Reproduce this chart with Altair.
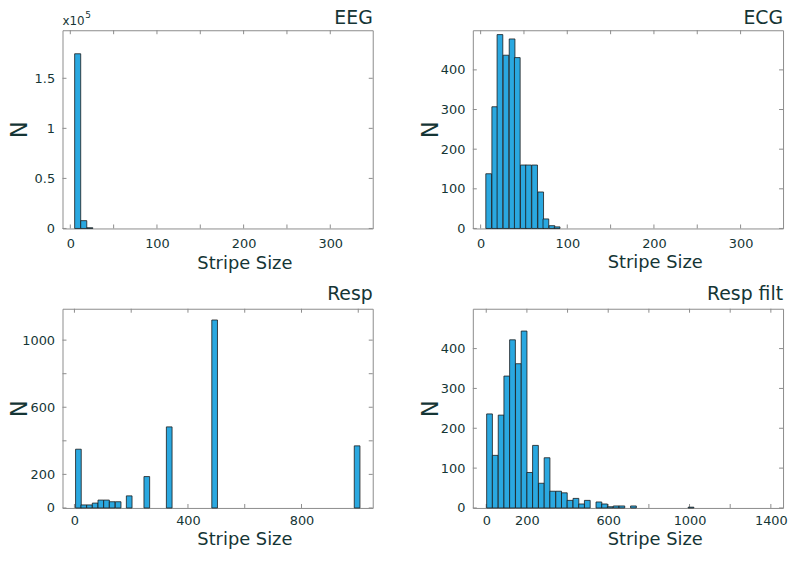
import altair as alt
import pandas as pd

FONT = "DejaVu Sans"
TEXT = "#153535"
FRAME = "#8c8c8c"
BAR_FILL = "#2aa8e0"
BAR_STROKE = "#1b1b1b"

# ---------------- data ----------------
# EEG
eeg_bin_start = [5, 12, 19]
eeg_bin_width = 7
eeg_count = [174500, 7800, 700]
eeg_x_domain = [-9, 349]
eeg_y_domain = [0, 198000]
eeg_x_ticks = [0, 50, 100, 150, 200, 250, 300]
eeg_x_labels = [0, 100, 200, 300]
eeg_y_ticks = [0, 50000, 100000, 150000]
eeg_y_labels = [0, 50000, 100000, 150000]

# ECG
ecg_bin_start = [6, 13, 19, 26, 33, 39, 46, 52, 59, 66, 72, 79, 85]
ecg_bin_width = 6.6
ecg_count = [138, 307, 489, 437, 478, 431, 160, 160, 160, 92, 24, 7, 4]
ecg_x_domain = [-9, 349]
ecg_y_domain = [0, 500]
ecg_x_ticks = [0, 50, 100, 150, 200, 250, 300]
ecg_x_labels = [0, 100, 200, 300]
ecg_y_ticks = [0, 100, 200, 300, 400]
ecg_y_labels = [0, 100, 200, 300, 400]

# Resp
resp_bin_start = [4, 23, 43, 63, 83, 103, 123, 144, 183, 245, 324, 484, 986]
resp_bin_width = 20
resp_count = [350, 18, 18, 29, 47, 47, 37, 37, 72, 187, 483, 1120, 370]
resp_x_domain = [-42, 1051]
resp_y_domain = [0, 1187]
resp_x_ticks = [0, 200, 400, 600, 800, 1000]
resp_x_labels = [0, 400, 800]
resp_y_ticks = [0, 200, 400, 600, 800, 1000]
resp_y_labels = [0, 200, 600, 1000]

# Resp filt
respf_bin_start = [2, 30, 59, 87, 115, 144, 172, 200, 228, 257, 285, 313, 342,
                   370, 398, 427, 455, 483, 540, 568, 596, 625, 653, 710, 993]
respf_bin_width = 28.3
respf_count = [236, 132, 233, 331, 422, 362, 444, 89, 157, 62, 126, 42, 42,
               38, 19, 24, 10, 19, 15, 10, 3, 5, 5, 5, 2]
respf_x_domain = [-66, 1460]
respf_y_domain = [0, 500]
respf_x_ticks = [0, 200, 400, 600, 800, 1000, 1200, 1400]
respf_x_labels = [0, 200, 600, 1000, 1400]
respf_y_ticks = [0, 100, 200, 300, 400]
respf_y_labels = [0, 100, 200, 300, 400]

W = 313
TICK = 4


def panel(name, starts, bw, counts, xdom, ydom, xticks, xlabels, yticks, ylabels,
          H, title_y, xtitle_y, xlabel_pad, ylabel_expr=None, extra=None):
    bars_df = pd.DataFrame({"start": starts, "count": counts})
    bars_df["end"] = bars_df["start"] + bw
    xt = pd.DataFrame({"v": xticks})
    yt = pd.DataFrame({"v": yticks})

    xs = alt.Scale(domain=xdom, nice=False, zero=False)
    ys = alt.Scale(domain=ydom, nice=False, zero=False)

    xaxis = alt.Axis(values=xlabels, ticks=False, domain=False, grid=False,
                     labelFontSize=13, labelPadding=xlabel_pad, labelFlush=False,
                     labelOverlap=False, format="d",
                     title="Stripe Size", titleFontSize=18, titleFontWeight="normal",
                     titleX=W / 2 + 27, titleY=xtitle_y, titleBaseline="alphabetic",
                     titleAlign="center")
    yargs = dict(values=ylabels, ticks=False, domain=False, grid=False,
                 labelFontSize=13, labelPadding=8, labelFlush=False,
                 labelOverlap=False, format="d",
                 title="N", titleFontSize=23, titleFontWeight="normal",
                 titleAngle=270, titleX=-36, titleY=H / 2,
                 titleBaseline="alphabetic", titleAlign="center")
    if ylabel_expr:
        yargs["labelExpr"] = ylabel_expr
    yaxis = alt.Axis(**yargs)

    rule = alt.Chart(xt).mark_rule(color=FRAME, strokeWidth=1)
    bottom = rule.encode(x=alt.X("v:Q", scale=xs, axis=xaxis),
                         y=alt.value(H), y2=alt.value(H - TICK))
    top = rule.encode(x=alt.X("v:Q", scale=xs, axis=xaxis),
                      y=alt.value(0), y2=alt.value(TICK))
    yrule = alt.Chart(yt).mark_rule(color=FRAME, strokeWidth=1)
    left = yrule.encode(y=alt.Y("v:Q", scale=ys, axis=yaxis),
                        x=alt.value(0), x2=alt.value(TICK))
    right = yrule.encode(y=alt.Y("v:Q", scale=ys, axis=yaxis),
                         x=alt.value(W), x2=alt.value(W - TICK))
    bars = alt.Chart(bars_df).mark_rect(fill=BAR_FILL, stroke=BAR_STROKE,
                                        strokeWidth=0.8).encode(
        x=alt.X("start:Q", scale=xs, axis=xaxis),
        x2="end:Q",
        y=alt.Y("count:Q", scale=ys, axis=yaxis),
        y2=alt.datum(0),
    )
    title = alt.Chart(pd.DataFrame({"t": [name]})).mark_text(
        align="right", baseline="alphabetic", fontSize=19, font=FONT, color=TEXT
    ).encode(text="t:N", x=alt.value(W), y=alt.value(title_y))
    layers = [bottom, top, left, right, bars, title]
    if extra:
        layers += extra
    return alt.layer(*layers).properties(width=W, height=H)


H1 = 200
H2 = 201

mult_df = pd.DataFrame({"t": ["x10"]})
exp_df = pd.DataFrame({"t": ["5"]})
mult = alt.Chart(mult_df).mark_text(align="left", baseline="alphabetic", fontSize=12,
                                    font=FONT, color=TEXT).encode(
    text="t:N", x=alt.value(0), y=alt.value(-5))
expo = alt.Chart(exp_df).mark_text(align="left", baseline="alphabetic", fontSize=9,
                                   font=FONT, color=TEXT).encode(
    text="t:N", x=alt.value(23), y=alt.value(-12))

eeg = panel("EEG", eeg_bin_start, eeg_bin_width, eeg_count, eeg_x_domain, eeg_y_domain,
            eeg_x_ticks, eeg_x_labels, eeg_y_ticks, eeg_y_labels, H1, -6, 40, 9,
            ylabel_expr="datum.value / 100000", extra=[mult, expo])
ecg = panel("ECG", ecg_bin_start, ecg_bin_width, ecg_count, ecg_x_domain, ecg_y_domain,
            ecg_x_ticks, ecg_x_labels, ecg_y_ticks, ecg_y_labels, H1, -6, 39, 9)
resp = panel("Resp", resp_bin_start, resp_bin_width, resp_count, resp_x_domain, resp_y_domain,
             resp_x_ticks, resp_x_labels, resp_y_ticks, resp_y_labels, H2, -9, 37, 7)
respf = panel("Resp filt", respf_bin_start, respf_bin_width, respf_count, respf_x_domain,
              respf_y_domain, respf_x_ticks, respf_x_labels, respf_y_ticks, respf_y_labels,
              H2, -9, 37, 7)

chart = alt.concat(eeg, ecg, resp, respf, columns=2,
                   spacing={"row": 81, "column": 101}, bounds="flush").properties(
    padding={"left": 0, "top": -2, "right": 0, "bottom": 0}
).configure_view(stroke=FRAME, strokeWidth=1).configure_axis(
    labelFont=FONT, titleFont=FONT, labelColor=TEXT, titleColor=TEXT
).configure_text(font=FONT)

chart.save("out.html", embed_options={"renderer": "svg", "actions": False})
